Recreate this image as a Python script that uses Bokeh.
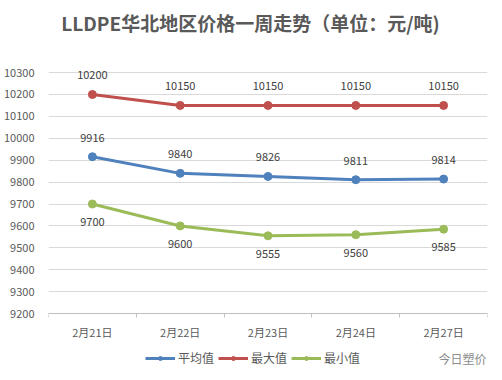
from bokeh.plotting import figure
from bokeh.models import FixedTicker, Legend, LegendItem, Label, ColumnDataSource, LabelSet
from bokeh.core.properties import value
from bokeh.embed import file_html
from bokeh.resources import INLINE

title_text = "LLDPE华北地区价格一周走势（单位：元/吨)"
dates = ["2月21日", "2月22日", "2月23日", "2月24日", "2月27日"]
avg_vals = [9916, 9840, 9826, 9811, 9814]
max_vals = [10200, 10150, 10150, 10150, 10150]
min_vals = [9700, 9600, 9555, 9560, 9585]
y_ticks = list(range(9200, 10301, 100))

FONT = "Noto Sans CJK SC"
xs = [i + 0.5 for i in range(len(dates))]

# the frame spans the whole canvas height; the space above 10300 holds the title,
# the space under 9200 holds the category labels, the legend and the watermark
p = figure(frame_width=439, frame_height=372, output_backend="svg", toolbar_location=None,
           x_range=(0, len(dates)), y_range=(8931, 10629),
           min_border_left=48, min_border_right=7, min_border_top=0, min_border_bottom=0)
p.outline_line_color = None
p.background_fill_color = "white"
p.border_fill_color = "white"

# x axis drawn at the 9200 baseline
p.xaxis.fixed_location = 9200
p.xaxis.ticker = FixedTicker(ticks=xs, minor_ticks=list(range(len(dates) + 1)))
p.xaxis.major_label_overrides = {x: d for x, d in zip(xs, dates)}
p.xaxis.major_tick_line_color = None
p.xaxis.major_tick_out = 4
p.xaxis.major_tick_in = 0
p.xaxis.minor_tick_line_color = "#bfbfbf"
p.xaxis.minor_tick_out = 4
p.xaxis.minor_tick_in = 0
p.xaxis.axis_line_color = "#bfbfbf"
p.xaxis.major_label_text_font = FONT
p.xaxis.major_label_text_font_size = "11px"
p.xaxis.major_label_text_color = "#595959"
p.xaxis.major_label_standoff = 6
p.xgrid.grid_line_color = None

p.yaxis.ticker = FixedTicker(ticks=y_ticks)
p.yaxis.axis_line_color = None
p.yaxis.major_tick_line_color = None
p.yaxis.minor_tick_line_color = None
p.yaxis.major_label_text_font = FONT
p.yaxis.major_label_text_font_size = "11px"
p.yaxis.major_label_text_color = "#595959"
p.yaxis.major_label_standoff = 8
p.ygrid.grid_line_color = "#d9d9d9"

series = [("平均值", avg_vals, "#4F81BD", 19),
          ("最大值", max_vals, "#C0504D", 19),
          ("最小值", min_vals, "#9BBB59", -18)]
items = []
for name, vals, color, yoff in series:
    src = ColumnDataSource(dict(x=xs, y=vals, t=[str(v) for v in vals]))
    ln = p.line("x", "y", source=src, line_color=color, line_width=3)
    sc = p.scatter("x", "y", source=src, size=8, fill_color=color, line_color=color)
    items.append(LegendItem(label=name, renderers=[ln, sc]))
    lab = LabelSet(x="x", y="y", text="t", source=src, y_offset=yoff,
                   text_align="center", text_baseline="middle",
                   text_font=value(FONT), text_font_size="11px", text_color="#404040")
    p.add_layout(lab)

title = Label(x=202, y=350, x_units="screen", y_units="screen", text=title_text,
              text_align="center", text_baseline="middle",
              text_font=FONT, text_font_size="19px", text_font_style="bold",
              text_color="#595959")
p.add_layout(title)

legend = Legend(items=items, orientation="horizontal", location=(97, 6),
                border_line_color=None, background_fill_alpha=0,
                label_text_font=FONT, label_text_font_size="12px", label_text_color="#595959",
                glyph_width=30, glyph_height=10, label_height=16, spacing=4, label_standoff=3,
                padding=0, margin=0)
p.add_layout(legend)

wm = Label(x=438, y=14, x_units="screen", y_units="screen", text="今日塑价",
           text_align="right", text_baseline="middle",
           text_font=FONT, text_font_size="12px", text_color="#8c8c8c")
p.add_layout(wm)

open("out.html", "w").write(file_html(p, INLINE))
